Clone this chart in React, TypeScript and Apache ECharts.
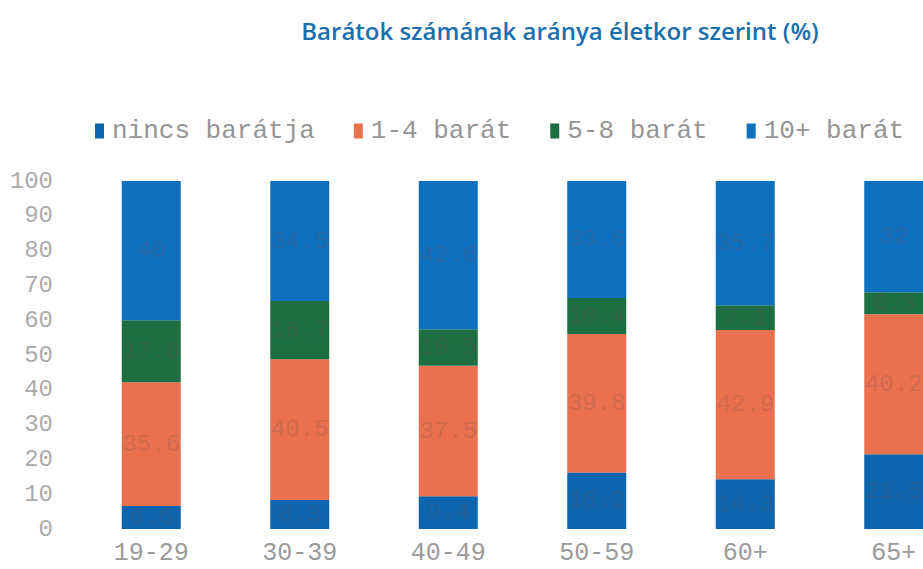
import React, { useEffect, useRef } from "react";
import * as echarts from "echarts";

const categories = ["19-29", "30-39", "40-49", "50-59", "60+", "65+"];
const seriesNames = ["nincs barátja", "1-4 barát", "5-8 barát", "10+ barát"];
const nincs = [6.6, 8.3, 9.4, 16.2, 14.3, 21.5];
const egyNegy = [35.6, 40.5, 37.5, 39.8, 42.9, 40.2];
const otNyolc = [17.8, 16.7, 10.5, 10.4, 7.1, 6.3];
const tizPlusz = [40, 34.5, 42.6, 33.6, 35.7, 32.0];
const yTicks = [0, 100, 10];

const colors = ["#0e64ad", "#e9714f", "#1d6f42", "#0f70bd"];
const labelColors = ["#21609a", "#d06a50", "#2f6545", "#2468a8"];

export default function App() {
  const ref = useRef<HTMLDivElement>(null);
  useEffect(() => {
    if (!ref.current) return;
    const chart = echarts.init(ref.current, null, { renderer: "svg" });
    const data = [nincs, egyNegy, otNyolc, tizPlusz];
    chart.setOption({
      animation: false,
      backgroundColor: "#ffffff",
      title: {
        text: "Barátok számának aránya életkor szerint (%)",
        left: 555,
        textAlign: "center",
        top: 13,
        textStyle: {
          fontFamily: "Open Sans",
          fontWeight: 600,
          fontSize: 24,
          color: "#1a6fae",
        },
      },
      legend: {
        left: 90,
        top: 113,
        itemWidth: 9,
        itemHeight: 15,
        itemGap: 39,
        icon: "rect",
        data: seriesNames,
        textStyle: {
          fontFamily: "Liberation Mono",
          fontSize: 26,
          color: "#959595",
          padding: [0, 0, 0, 3],
        },
      },
      grid: { left: 77, width: 891, top: 181, bottom: 40 },
      xAxis: {
        type: "category",
        data: categories,
        axisLine: { show: false },
        axisTick: { show: false },
        axisLabel: {
          fontFamily: "Liberation Mono",
          fontSize: 25,
          color: "#9a9a9a",
          margin: 12,
        },
      },
      yAxis: {
        type: "value",
        min: yTicks[0],
        max: yTicks[1],
        interval: yTicks[2],
        axisLine: { show: false },
        axisTick: { show: false },
        splitLine: { show: false },
        axisLabel: {
          fontFamily: "Liberation Mono",
          fontSize: 24,
          color: "#ababab",
          margin: 24,
        },
      },
      series: seriesNames.map((name, i) => ({
        name,
        type: "bar",
        stack: "total",
        barWidth: 59,
        data: data[i],
        itemStyle: { color: colors[i] },
        label: {
          show: true,
          position: "inside",
          fontFamily: "Liberation Mono",
          fontSize: 24,
          color: labelColors[i],
        },
      })),
    });
    return () => chart.dispose();
  }, []);
  return (
    <div
      style={{
        position: "absolute",
        left: 0,
        top: 0,
        width: 923,
        height: 569,
        overflow: "hidden",
      }}
    >
      <div ref={ref} style={{ width: 1000, height: 569 }} />
    </div>
  );
}
